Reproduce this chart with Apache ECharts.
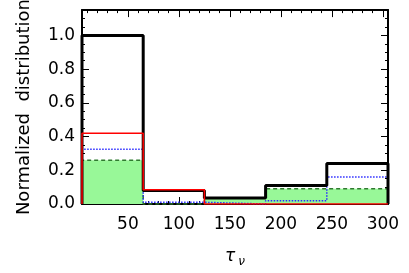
<!DOCTYPE html>
<html>
<head>
<meta charset="utf-8">
<script src="https://cdn.jsdelivr.net/npm/echarts@6/dist/echarts.min.js"></script>
<style>html,body{margin:0;padding:0;background:#fff}#c{width:409px;height:273px}</style>
</head>
<body>
<div id="c"></div>
<script>
// Bin edges and normalized values per series
var binEdges = [5, 65, 125, 185, 245, 305];
var blackVals = [1.0, 0.08, 0.035, 0.11, 0.24];
var redVals = [0.42, 0.085, 0.0, 0.0, 0.0];
var blueVals = [0.325, 0.01, 0.0, 0.02, 0.16];
var greenVals = [0.26, 0.0, 0.035, 0.09, 0.09];
var xTicks = [50, 100, 150, 200, 250, 300];
var yTicks = [0.0, 0.2, 0.4, 0.6, 0.8, 1.0];

function stepData(vals) {
  var pts = [[binEdges[0], 0]];
  for (var i = 0; i < vals.length; i++) pts.push([binEdges[i], vals[i]]);
  pts.push([binEdges[binEdges.length - 1], vals[vals.length - 1]]);
  pts.push([binEdges[binEdges.length - 1], 0]);
  return pts;
}

var FONT = 'DejaVu Sans';
var xMin = binEdges[0], xMax = binEdges[binEdges.length - 1];

function xAx(pos, showLabels) {
  return {
    type: 'value', position: pos, min: xMin, max: xMax, splitNumber: 6,
    axisLine: { show: true, onZero: false, lineStyle: { color: '#000', width: 2 } },
    axisTick: { show: true, inside: true, length: 7, lineStyle: { color: '#000', width: 1 } },
    minorTick: { show: true, splitNumber: 5, length: 3, lineStyle: { color: '#000', width: 1 } },
    splitLine: { show: false },
    axisLabel: {
      show: showLabels, color: '#000', fontFamily: FONT, fontSize: 17, margin: 12,
      showMinLabel: false, showMaxLabel: false,
      formatter: function (v) { return xTicks.indexOf(v) >= 0 ? String(v) : ''; }
    },
    name: showLabels ? '{t|τ}{s|ν}' : '',
    nameLocation: 'middle', nameGap: 42,
    nameTextStyle: {
      rich: {
        t: { fontFamily: FONT, fontStyle: 'italic', fontSize: 17, color: '#000' },
        s: { fontFamily: FONT, fontStyle: 'italic', fontSize: 12, color: '#000', padding: [10, 0, 0, 3] }
      }
    }
  };
}
function yAx(pos, showLabels) {
  return {
    type: 'value', position: pos, min: 0, max: 1.15, interval: 0.2,
    axisLine: { show: true, onZero: false, lineStyle: { color: '#000', width: 2 } },
    axisTick: { show: true, inside: true, length: 7, lineStyle: { color: '#000', width: 1 } },
    minorTick: { show: true, splitNumber: 4, length: 3, lineStyle: { color: '#000', width: 1 } },
    splitLine: { show: false },
    axisLabel: {
      show: showLabels, color: '#000', fontFamily: FONT, fontSize: 17, margin: 7,
      showMaxLabel: false,
      formatter: function (v) {
        for (var i = 0; i < yTicks.length; i++) if (Math.abs(yTicks[i] - v) < 1e-6) return yTicks[i].toFixed(1);
        return '';
      }
    },
    name: showLabels ? 'Normalized  distribution' : '',
    nameLocation: 'middle', nameGap: 49, nameRotate: 90,
    nameTextStyle: { fontFamily: FONT, fontSize: 18, color: '#000' }
  };
}

var chart = echarts.init(document.getElementById('c'), null, { renderer: 'canvas' });
chart.setOption({
  animation: false,
  backgroundColor: '#fff',
  grid: { left: 82, right: 21, top: 10, bottom: 61 },
  xAxis: [xAx('bottom', true), xAx('top', false)],
  yAxis: [yAx('left', true), yAx('right', false)],
  series: [
    { type: 'line', step: 'end', data: stepData(greenVals), symbol: 'none', z: 2,
      lineStyle: { color: '#2f7a2f', width: 1.5, type: [4, 3] },
      areaStyle: { color: '#98f898', opacity: 1 } },
    { type: 'line', step: 'end', data: stepData(blueVals), symbol: 'none', z: 3,
      lineStyle: { color: '#2a2aff', width: 1.5, type: [1.5, 1.5] } },
    { type: 'line', step: 'end', data: stepData(blackVals), symbol: 'none', z: 4,
      lineStyle: { color: '#000', width: 3 } },
    { type: 'line', step: 'end', data: stepData(redVals), symbol: 'none', z: 5,
      lineStyle: { color: '#ff0000', width: 1.5 } }
  ]
});
</script>
</body>
</html>
